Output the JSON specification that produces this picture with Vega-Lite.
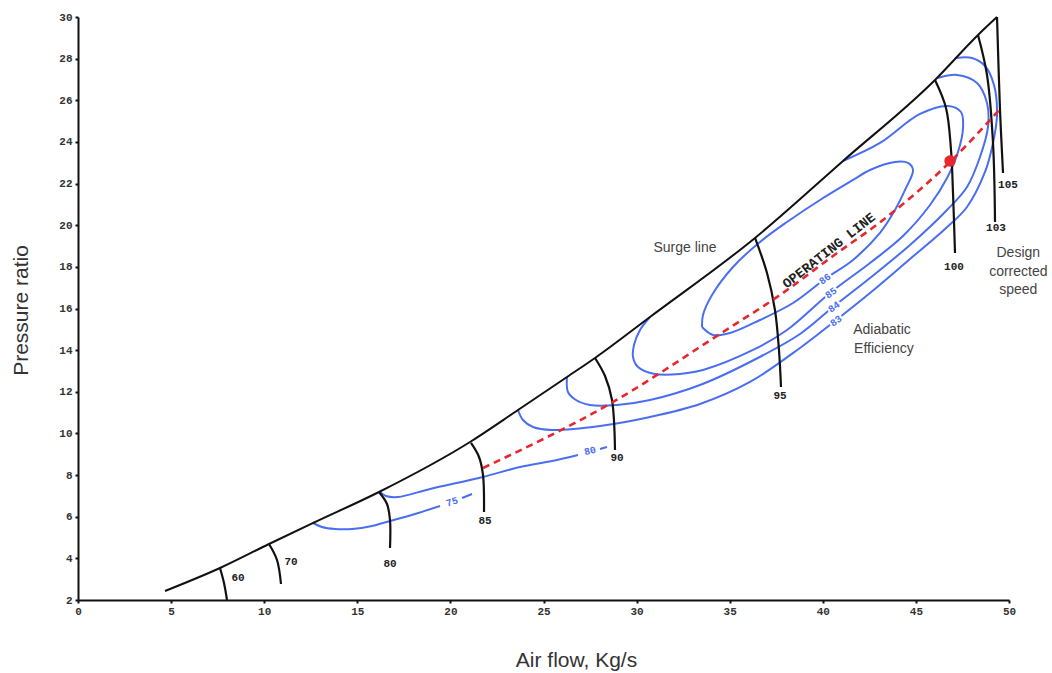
{
  "$schema": "https://vega.github.io/schema/vega-lite/v6.json",
  "width": 931,
  "height": 583,
  "autosize": {"type": "none"},
  "padding": {"left": 78, "top": 17, "right": 43, "bottom": 73},
  "background": "white",
  "config": {
    "view": {"stroke": null},
    "axis": {
      "grid": false,
      "domainColor": "#111",
      "domainWidth": 2,
      "tickColor": "#111",
      "tickSize": 3,
      "tickWidth": 2,
      "labelFlush": false,
      "labelFont": "Liberation Mono",
      "labelFontWeight": "bold",
      "labelFontSize": 11,
      "labelColor": "#333",
      "titleFont": "Liberation Sans",
      "titleFontSize": 21,
      "titleFontWeight": "normal",
      "titleColor": "#333"
    }
  },
  "datasets": {
    "surge": [
      {"i": 0, "x": 4.672, "y": 2.432},
      {"i": 1, "x": 7.626, "y": 3.537},
      {"i": 2, "x": 10.258, "y": 4.69},
      {"i": 3, "x": 12.621, "y": 5.698},
      {"i": 4, "x": 16.166, "y": 7.187},
      {"i": 5, "x": 21.053, "y": 9.589},
      {"i": 6, "x": 23.631, "y": 11.126},
      {"i": 7, "x": 26.262, "y": 12.711},
      {"i": 8, "x": 27.766, "y": 13.624},
      {"i": 9, "x": 30.72, "y": 15.593},
      {"i": 10, "x": 36.359, "y": 19.387},
      {"i": 11, "x": 41.085, "y": 23.086},
      {"i": 12, "x": 46.026, "y": 26.976},
      {"i": 13, "x": 48.335, "y": 29.138},
      {"i": 14, "x": 49.356, "y": 30.0}
    ],
    "speed": [
      {"id": "60", "i": 0, "x": 7.626, "y": 3.537},
      {"id": "60", "i": 1, "x": 7.841, "y": 2.817},
      {"id": "60", "i": 2, "x": 8.002, "y": 2.0},
      {"id": "70", "i": 0, "x": 10.258, "y": 4.69},
      {"id": "70", "i": 1, "x": 10.688, "y": 3.921},
      {"id": "70", "i": 2, "x": 10.902, "y": 2.769},
      {"id": "80", "i": 0, "x": 16.166, "y": 7.187},
      {"id": "80", "i": 1, "x": 16.595, "y": 6.611},
      {"id": "80", "i": 2, "x": 16.756, "y": 5.842},
      {"id": "80", "i": 3, "x": 16.756, "y": 4.498},
      {"id": "85", "i": 0, "x": 21.106, "y": 9.541},
      {"id": "85", "i": 1, "x": 21.536, "y": 8.868},
      {"id": "85", "i": 2, "x": 21.751, "y": 8.004},
      {"id": "85", "i": 3, "x": 21.805, "y": 6.227},
      {"id": "90", "i": 0, "x": 27.766, "y": 13.624},
      {"id": "90", "i": 1, "x": 28.303, "y": 12.759},
      {"id": "90", "i": 2, "x": 28.679, "y": 11.606},
      {"id": "90", "i": 3, "x": 28.84, "y": 9.205},
      {"id": "95", "i": 0, "x": 36.359, "y": 19.387},
      {"id": "95", "i": 1, "x": 37.004, "y": 17.706},
      {"id": "95", "i": 2, "x": 37.431, "y": 15.929},
      {"id": "95", "i": 3, "x": 37.646, "y": 14.008},
      {"id": "95", "i": 4, "x": 37.755, "y": 12.231},
      {"id": "100", "i": 0, "x": 46.026, "y": 26.976},
      {"id": "100", "i": 1, "x": 46.617, "y": 25.632},
      {"id": "100", "i": 2, "x": 46.886, "y": 23.614},
      {"id": "100", "i": 3, "x": 46.993, "y": 21.549},
      {"id": "100", "i": 4, "x": 47.1, "y": 18.667},
      {"id": "103", "i": 0, "x": 48.335, "y": 29.138},
      {"id": "103", "i": 1, "x": 48.819, "y": 27.216},
      {"id": "103", "i": 2, "x": 49.141, "y": 23.95},
      {"id": "103", "i": 3, "x": 49.249, "y": 20.156},
      {"id": "105", "i": 0, "x": 49.356, "y": 30.0},
      {"id": "105", "i": 1, "x": 49.517, "y": 25.535},
      {"id": "105", "i": 2, "x": 49.678, "y": 22.509}
    ],
    "speedLabels": [
      {"t": "60", "x": 8.593, "y": 3.057},
      {"t": "70", "x": 11.439, "y": 3.825},
      {"t": "80", "x": 16.756, "y": 3.729},
      {"t": "85", "x": 21.858, "y": 5.794},
      {"t": "90", "x": 28.948, "y": 8.82},
      {"t": "95", "x": 37.702, "y": 11.798},
      {"t": "100", "x": 47.046, "y": 17.994},
      {"t": "103", "x": 49.302, "y": 19.868},
      {"t": "105", "x": 49.947, "y": 21.933}
    ],
    "contours": [
      {"id": "86", "i": 0, "x": 33.513, "y": 15.112},
      {"id": "86", "i": 1, "x": 34.103, "y": 14.728},
      {"id": "86", "i": 2, "x": 35.016, "y": 14.824},
      {"id": "86", "i": 3, "x": 36.627, "y": 15.449},
      {"id": "86", "i": 4, "x": 38.4, "y": 16.265},
      {"id": "86", "i": 5, "x": 40.118, "y": 17.418},
      {"id": "86", "i": 6, "x": 41.622, "y": 18.331},
      {"id": "86", "i": 7, "x": 43.072, "y": 19.627},
      {"id": "86", "i": 8, "x": 43.878, "y": 20.732},
      {"id": "86", "i": 9, "x": 44.469, "y": 21.789},
      {"id": "86", "i": 10, "x": 44.845, "y": 22.653},
      {"id": "86", "i": 11, "x": 44.576, "y": 22.99},
      {"id": "86", "i": 12, "x": 43.878, "y": 23.038},
      {"id": "86", "i": 13, "x": 42.535, "y": 22.653},
      {"id": "86", "i": 14, "x": 41.622, "y": 22.173},
      {"id": "86", "i": 15, "x": 39.85, "y": 21.212},
      {"id": "86", "i": 16, "x": 38.078, "y": 20.156},
      {"id": "86", "i": 17, "x": 36.627, "y": 19.195},
      {"id": "86", "i": 18, "x": 35.177, "y": 17.994},
      {"id": "86", "i": 19, "x": 34.05, "y": 16.649},
      {"id": "86", "i": 20, "x": 33.566, "y": 15.689},
      {"id": "86", "i": 21, "x": 33.513, "y": 15.112},
      {"id": "85", "i": 0, "x": 30.72, "y": 15.593},
      {"id": "85", "i": 1, "x": 30.183, "y": 14.968},
      {"id": "85", "i": 2, "x": 29.861, "y": 14.248},
      {"id": "85", "i": 3, "x": 29.807, "y": 13.672},
      {"id": "85", "i": 4, "x": 30.075, "y": 13.191},
      {"id": "85", "i": 5, "x": 30.988, "y": 12.855},
      {"id": "85", "i": 6, "x": 32.331, "y": 12.855},
      {"id": "85", "i": 7, "x": 33.566, "y": 13.047},
      {"id": "85", "i": 8, "x": 36.252, "y": 14.008},
      {"id": "85", "i": 9, "x": 38.078, "y": 14.968},
      {"id": "85", "i": 10, "x": 40.387, "y": 16.746},
      {"id": "85", "i": 11, "x": 42.535, "y": 18.186},
      {"id": "85", "i": 12, "x": 44.307, "y": 19.483},
      {"id": "85", "i": 13, "x": 45.758, "y": 20.972},
      {"id": "85", "i": 14, "x": 46.671, "y": 22.269},
      {"id": "85", "i": 15, "x": 47.261, "y": 23.518},
      {"id": "85", "i": 16, "x": 47.53, "y": 24.671},
      {"id": "85", "i": 17, "x": 47.422, "y": 25.439},
      {"id": "85", "i": 18, "x": 46.724, "y": 25.727},
      {"id": "85", "i": 19, "x": 45.22, "y": 25.343},
      {"id": "85", "i": 20, "x": 43.072, "y": 23.95},
      {"id": "85", "i": 21, "x": 41.085, "y": 23.086},
      {"id": "84", "i": 0, "x": 26.262, "y": 12.711},
      {"id": "84", "i": 1, "x": 26.316, "y": 11.99},
      {"id": "84", "i": 2, "x": 26.745, "y": 11.606},
      {"id": "84", "i": 3, "x": 27.497, "y": 11.366},
      {"id": "84", "i": 4, "x": 28.948, "y": 11.366},
      {"id": "84", "i": 5, "x": 30.72, "y": 11.606},
      {"id": "84", "i": 6, "x": 33.405, "y": 12.327},
      {"id": "84", "i": 7, "x": 36.09, "y": 13.431},
      {"id": "84", "i": 8, "x": 38.776, "y": 14.776},
      {"id": "84", "i": 9, "x": 40.548, "y": 16.073},
      {"id": "84", "i": 10, "x": 42.535, "y": 17.466},
      {"id": "84", "i": 11, "x": 44.683, "y": 19.051},
      {"id": "84", "i": 12, "x": 46.671, "y": 20.732},
      {"id": "84", "i": 13, "x": 47.745, "y": 21.837},
      {"id": "84", "i": 14, "x": 48.443, "y": 23.278},
      {"id": "84", "i": 15, "x": 48.872, "y": 24.719},
      {"id": "84", "i": 16, "x": 48.819, "y": 25.872},
      {"id": "84", "i": 17, "x": 48.282, "y": 26.832},
      {"id": "84", "i": 18, "x": 47.208, "y": 27.216},
      {"id": "84", "i": 19, "x": 46.187, "y": 27.072},
      {"id": "83", "i": 0, "x": 23.631, "y": 11.126},
      {"id": "83", "i": 1, "x": 23.899, "y": 10.646},
      {"id": "83", "i": 2, "x": 24.436, "y": 10.309},
      {"id": "83", "i": 3, "x": 25.456, "y": 10.165},
      {"id": "83", "i": 4, "x": 28.035, "y": 10.357},
      {"id": "83", "i": 5, "x": 30.72, "y": 10.79},
      {"id": "83", "i": 6, "x": 33.405, "y": 11.414},
      {"id": "83", "i": 7, "x": 36.09, "y": 12.471},
      {"id": "83", "i": 8, "x": 38.776, "y": 14.104},
      {"id": "83", "i": 9, "x": 40.655, "y": 15.401},
      {"id": "83", "i": 10, "x": 42.535, "y": 16.746},
      {"id": "83", "i": 11, "x": 44.683, "y": 18.379},
      {"id": "83", "i": 12, "x": 46.564, "y": 19.82},
      {"id": "83", "i": 13, "x": 47.745, "y": 20.876},
      {"id": "83", "i": 14, "x": 48.711, "y": 22.557},
      {"id": "83", "i": 15, "x": 49.141, "y": 23.95},
      {"id": "83", "i": 16, "x": 49.356, "y": 25.295},
      {"id": "83", "i": 17, "x": 49.195, "y": 26.736},
      {"id": "83", "i": 18, "x": 48.711, "y": 27.648},
      {"id": "83", "i": 19, "x": 48.013, "y": 28.032},
      {"id": "83", "i": 20, "x": 47.154, "y": 28.032},
      {"id": "80", "i": 0, "x": 16.219, "y": 7.187},
      {"id": "80", "i": 1, "x": 16.542, "y": 6.995},
      {"id": "80", "i": 2, "x": 17.186, "y": 6.947},
      {"id": "80", "i": 3, "x": 18.905, "y": 7.331},
      {"id": "80", "i": 4, "x": 21.751, "y": 7.908},
      {"id": "80", "i": 5, "x": 23.738, "y": 8.388},
      {"id": "80", "i": 6, "x": 25.456, "y": 8.676},
      {"id": "80", "i": 7, "x": 26.853, "y": 8.964},
      {"id": "80b", "i": 0, "x": 28.035, "y": 9.253},
      {"id": "80b", "i": 1, "x": 28.41, "y": 9.349},
      {"id": "75", "i": 0, "x": 12.621, "y": 5.698},
      {"id": "75", "i": 1, "x": 13.104, "y": 5.506},
      {"id": "75", "i": 2, "x": 13.802, "y": 5.41},
      {"id": "75", "i": 3, "x": 14.715, "y": 5.41},
      {"id": "75", "i": 4, "x": 15.79, "y": 5.554},
      {"id": "75", "i": 5, "x": 16.756, "y": 5.794},
      {"id": "75", "i": 6, "x": 18.099, "y": 6.131},
      {"id": "75", "i": 7, "x": 19.442, "y": 6.515},
      {"id": "75b", "i": 0, "x": 20.623, "y": 6.899},
      {"id": "75b", "i": 1, "x": 21.16, "y": 7.091}
    ],
    "contourLabels": [
      {"t": "86", "x": 40.118, "y": 17.418, "a": 324},
      {"t": "85", "x": 40.441, "y": 16.746, "a": 324},
      {"t": "84", "x": 40.602, "y": 16.073, "a": 324},
      {"t": "83", "x": 40.709, "y": 15.401, "a": 324},
      {"t": "80", "x": 27.497, "y": 9.157, "a": 346},
      {"t": "75", "x": 20.086, "y": 6.707, "a": 342}
    ],
    "op": [
      {"i": 0, "x": 21.751, "y": 8.34},
      {"i": 1, "x": 28.733, "y": 11.51},
      {"i": 2, "x": 34.64, "y": 14.872},
      {"i": 3, "x": 37.702, "y": 16.649},
      {"i": 4, "x": 40.548, "y": 18.523},
      {"i": 5, "x": 43.233, "y": 20.252},
      {"i": 6, "x": 46.831, "y": 23.037},
      {"i": 7, "x": 49.571, "y": 25.631}
    ],
    "design": [{"x": 46.831, "y": 23.085}],
    "notes": [
      {"t": "Surge line", "x": 32.6, "y": 18.907},
      {"t": "Adiabatic", "x": 43.18, "y": 14.968},
      {"t": "Efficiency", "x": 43.28, "y": 14.06},
      {"t": "Design", "x": 50.5, "y": 18.667},
      {"t": "corrected", "x": 50.5, "y": 17.754},
      {"t": "speed", "x": 50.5, "y": 16.89}
    ],
    "opLabel": [{"t": "OPERATING LINE", "x": 40.33, "y": 18.78}]
  },
  "encoding": {
    "x": {
      "field": "x",
      "type": "quantitative",
      "scale": {"domain": [0, 50], "nice": false, "zero": false},
      "axis": {
        "values": [0, 5, 10, 15, 20, 25, 30, 35, 40, 45, 50],
        "title": "Air flow, Kg/s",
        "labelPadding": 2,
        "titleX": 498,
        "titleY": 60,
        "titleAlign": "center",
        "titleBaseline": "middle"
      }
    },
    "y": {
      "field": "y",
      "type": "quantitative",
      "scale": {"domain": [2, 30], "nice": false, "zero": false},
      "axis": {
        "values": [2, 4, 6, 8, 10, 12, 14, 16, 18, 20, 22, 24, 26, 28, 30],
        "title": "Pressure ratio",
        "labelPadding": 3,
        "titleX": -57,
        "titleY": 293,
        "titleAngle": 270,
        "titleAlign": "center",
        "titleBaseline": "middle"
      }
    }
  },
  "layer": [
    {
      "data": {"name": "contours"},
      "mark": {"type": "line", "color": "#4a6ef0", "strokeWidth": 2, "interpolate": "catmull-rom"},
      "encoding": {"detail": {"field": "id"}, "order": {"field": "i", "type": "quantitative"}}
    },
    {
      "data": {"name": "surge"},
      "mark": {"type": "line", "color": "#111", "strokeWidth": 2, "interpolate": "monotone"},
      "encoding": {"order": {"field": "i", "type": "quantitative"}}
    },
    {
      "data": {"name": "speed"},
      "mark": {"type": "line", "color": "#111", "strokeWidth": 2.2, "interpolate": "catmull-rom"},
      "encoding": {"detail": {"field": "id"}, "order": {"field": "i", "type": "quantitative"}}
    },
    {
      "data": {"name": "op"},
      "mark": {"type": "line", "color": "#e8262b", "strokeWidth": 2.6, "strokeDash": [7, 5], "interpolate": "monotone"},
      "encoding": {"order": {"field": "i", "type": "quantitative"}}
    },
    {
      "data": {"name": "design"},
      "mark": {"type": "point", "shape": "circle", "filled": true, "color": "#e8262b", "size": 130, "opacity": 1}
    },
    {
      "data": {"name": "speedLabels"},
      "mark": {"type": "text", "font": "Liberation Mono", "fontWeight": "bold", "fontSize": 11, "color": "#222"},
      "encoding": {"text": {"field": "t"}}
    },
    {
      "data": {"name": "contourLabels"},
      "mark": {"type": "text", "font": "Liberation Mono", "fontWeight": "bold", "fontSize": 10, "stroke": "white", "strokeWidth": 4, "color": "white"},
      "encoding": {"text": {"field": "t"}, "angle": {"field": "a", "type": "quantitative", "scale": null}}
    },
    {
      "data": {"name": "contourLabels"},
      "mark": {"type": "text", "font": "Liberation Mono", "fontWeight": "bold", "fontSize": 10, "color": "#4a6ef0"},
      "encoding": {"text": {"field": "t"}, "angle": {"field": "a", "type": "quantitative", "scale": null}}
    },
    {
      "data": {"name": "opLabel"},
      "mark": {"type": "text", "font": "Liberation Mono", "fontWeight": "bold", "fontSize": 13.5, "angle": 322, "color": "#222"},
      "encoding": {"text": {"field": "t"}}
    },
    {
      "data": {"name": "notes"},
      "mark": {"type": "text", "font": "Liberation Sans", "fontSize": 14, "color": "#444"},
      "encoding": {"text": {"field": "t"}}
    }
  ]
}
